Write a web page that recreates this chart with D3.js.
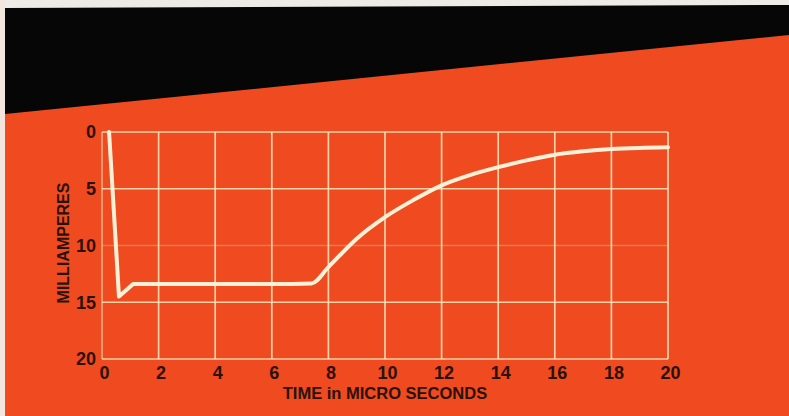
<!DOCTYPE html>
<html>
<head>
<meta charset="utf-8">
<script src="https://cdn.jsdelivr.net/npm/d3@7"></script>
<style>
  html, body { margin: 0; padding: 0; background: #ef4a20; }
  svg { display: block; }
</style>
</head>
<body>
<div id="chart"></div>
<script>
const WIDTH = 789;
const HEIGHT = 416;

// current trace
const timeUs = [0.25, 0.6, 1.1, 2, 4, 6, 7.4, 8, 9, 10, 11, 12, 13, 14, 15, 16, 17, 18, 19, 20];
const milliamps = [0, 14.5, 13.4, 13.4, 13.4, 13.4, 13.35, 11.9, 9.4, 7.5, 6.0, 4.7, 3.8, 3.1, 2.5, 2.0, 1.7, 1.5, 1.4, 1.35];

const xTicks = [0, 2, 4, 6, 8, 10, 12, 14, 16, 18, 20];
const yTicks = [0, 5, 10, 15, 20];

const X_LABEL = "TIME in MICRO SECONDS";
const Y_LABEL = "MILLIAMPERES";

let svg = d3.select("#chart")
    .append("svg")
    .attr("width", WIDTH)
    .attr("height", HEIGHT);

// paper: red field, black slanted band, pale edge
svg.append("rect")
    .attr("width", WIDTH)
    .attr("height", HEIGHT)
    .attr("fill", "#ef4a20");

svg.append("rect")
    .attr("width", WIDTH)
    .attr("height", 8)
    .attr("fill", "#eeeae6");

svg.append("rect")
    .attr("width", 5)
    .attr("height", HEIGHT)
    .attr("fill", "#f3e6df");

svg.append("polygon")
    .attr("points", `5,8 ${WIDTH},5 ${WIDTH},35 5,114`)
    .attr("fill", "#060606");

let x = d3.scaleLinear()
    .domain([0, 20])
    .range([102, 668]);

let y = d3.scaleLinear()
    .domain([0, 20])
    .range([132, 359]);

let grid = svg.append("g")
    .attr("stroke", "#f6e2b8")
    .attr("stroke-width", 1.7);

grid.selectAll("line.v")
    .data(xTicks)
    .enter()
    .append("line")
    .attr("class", "v")
    .attr("x1", d => x(d))
    .attr("x2", d => x(d))
    .attr("y1", y(0))
    .attr("y2", y(20))
    .attr("opacity", d => d == 0 ? 0.6 : 0.9);

grid.selectAll("line.h")
    .data(yTicks)
    .enter()
    .append("line")
    .attr("class", "h")
    .attr("x1", x(0))
    .attr("x2", x(20))
    .attr("y1", d => y(d))
    .attr("y2", d => y(d))
    .attr("opacity", d => d == 10 ? 0.3 : 0.9);

// sharp drop and dip drawn straight, the recovery drawn smooth
let points = timeUs.map((t, i) => [t, milliamps[i]]);
let SPLIT = 3;

let straight = d3.line()
    .x(d => x(d[0]))
    .y(d => y(d[1]));

let smooth = d3.line()
    .x(d => x(d[0]))
    .y(d => y(d[1]))
    .curve(d3.curveMonotoneX);

svg.append("path")
    .attr("d", straight(points.slice(0, SPLIT + 1)) + smooth(points.slice(SPLIT)).replace(/^M/, "L"))
    .attr("fill", "none")
    .attr("stroke", "#fcf1d6")
    .attr("stroke-width", 4)
    .attr("stroke-linejoin", "round")
    .attr("stroke-linecap", "round");

let fontFamily = "'Liberation Sans', Arial, sans-serif";

let xAxis = svg.append("g")
    .attr("transform", `translate(2, ${y(20) + 5})`)
    .call(d3.axisBottom(x).tickValues(xTicks).tickSize(0).tickPadding(2));

let yAxis = svg.append("g")
    .attr("transform", `translate(${x(0) - 4}, 0)`)
    .call(d3.axisLeft(y).tickValues(yTicks).tickSize(0).tickPadding(2));

[xAxis, yAxis].forEach(a => {
    a.select(".domain").remove();
    a.selectAll("text")
        .attr("fill", "#2a1208")
        .style("font-family", fontFamily)
        .style("font-size", "18px")
        .style("font-weight", "bold");
});

svg.append("text")
    .attr("x", (x(0) + x(20)) / 2)
    .attr("y", 399)
    .attr("text-anchor", "middle")
    .attr("fill", "#2a1208")
    .style("font-family", fontFamily)
    .style("font-size", "16.5px")
    .style("font-weight", "bold")
    .text(X_LABEL);

svg.append("text")
    .attr("transform", `translate(69, 243)rotate(-90)`)
    .attr("text-anchor", "middle")
    .attr("fill", "#2a1208")
    .style("font-family", fontFamily)
    .style("font-size", "16px")
    .style("font-weight", "bold")
    .text(Y_LABEL);
</script>
</body>
</html>
